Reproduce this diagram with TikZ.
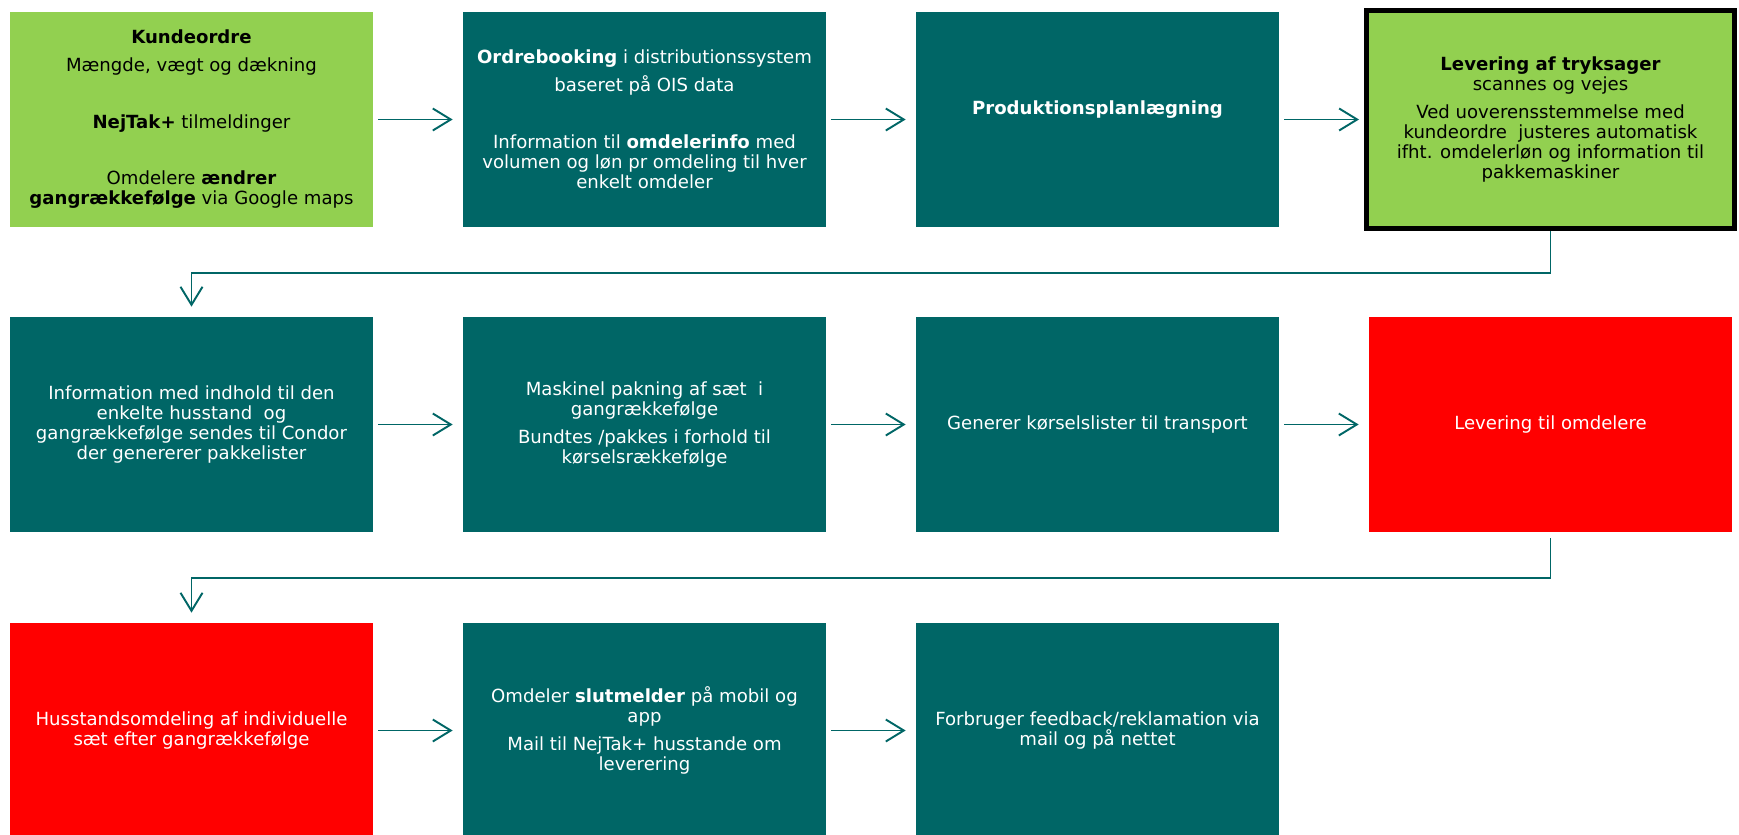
\documentclass[tikz,border=0pt]{standalone}
\usepackage{fontspec}
\setmainfont{DejaVu Sans}
\usetikzlibrary{arrows.meta}

\definecolor{pnteal}{RGB}{0,102,102}
\definecolor{pngreen}{RGB}{146,208,80}
\definecolor{pnred}{RGB}{255,0,0}

\tikzset{
    box/.style={rectangle, minimum width=7.26cm, minimum height=4.3cm, inner sep=0pt,
        align=center, font=\fontsize{10.3pt}{11.4pt}\selectfont},
    tealbox/.style={box, fill=pnteal, text=white},
    greenbox/.style={box, fill=pngreen, text=black},
    redbox/.style={box, fill=pnred, text=white},
    flow/.style={draw=pnteal, line width=1.1pt, -{Straight Barb[length=0.36cm,width=0.44cm]},
        shorten <=0.1cm, shorten >=0.2cm},
}

\begin{document}
\begin{tikzpicture}[]
        \useasboundingbox (0,0) rectangle (34.78,-16.68);

        \node[greenbox] (kunde) at (3.83,-2.39) {\textbf{Kundeordre}\\[4.5pt] Mængde, vægt og dækning\\[21pt] \textbf{NejTak+} tilmeldinger\\[20.5pt] Omdelere \textbf{ændrer}\\ \textbf{gangrækkefølge} via Google maps};
        \node[tealbox] (ordre) at (12.89,-2.39) {\textbf{Ordrebooking} i distributionssystem\\[4.5pt] baseret på OIS data\\[21pt] Information til \textbf{omdelerinfo} med\\ volumen og løn pr omdeling til hver\\ enkelt omdeler};
        \node[tealbox, text height=0.27cm, text depth=0.46cm] (prod) at (21.95,-2.39) {\textbf{Produktionsplanlægning}};
        \node[greenbox, draw=black, line width=2.85pt, minimum width=7.36cm, minimum height=4.36cm] (lev) at (31.01,-2.39) {\textbf{Levering af tryksager}\\ scannes og vejes\\[4.5pt] Ved uoverensstemmelse med\\ kundeordre\ \ justeres automatisk\\ ifht. omdelerløn og information til\\ pakkemaskiner};

        \node[tealbox] (info) at (3.83,-8.49) {Information med indhold til den\\ enkelte husstand\ \ og\\ gangrækkefølge sendes til Condor\\ der genererer pakkelister};
        \node[tealbox] (pak) at (12.89,-8.49) {Maskinel pakning af sæt\ \ i\\ gangrækkefølge\\[4pt] Bundtes /pakkes i forhold til\\ kørselsrækkefølge};
        \node[tealbox] (korsel) at (21.95,-8.49) {Generer kørselslister til transport};
        \node[redbox] (levomd) at (31.01,-8.49) {Levering til omdelere};

        \node[redbox] (husst) at (3.83,-14.61) {Husstandsomdeling af individuelle\\ sæt efter gangrækkefølge};
        \node[tealbox] (slut) at (12.89,-14.61) {Omdeler \textbf{slutmelder} på mobil og\\ app\\[4.5pt] Mail til NejTak+ husstande om\\ leverering};
        \node[tealbox] (feedback) at (21.95,-14.61) {Forbruger feedback/reklamation via\\ mail og på nettet};

        \draw[flow] (kunde) -- (ordre);
        \draw[flow] (ordre) -- (prod);
        \draw[flow, shorten >=0.1cm] (prod) -- (lev);
        \draw[flow, shorten <=0pt] (lev.south) -- ++(0,-0.84) -| (info.north);

        \draw[flow] (info) -- (pak);
        \draw[flow] (pak) -- (korsel);
        \draw[flow] (korsel) -- (levomd);
        \draw[flow, shorten <=0.12cm] (levomd.south) -- ++(0,-0.92) -| (husst.north);

        \draw[flow] (husst) -- (slut);
        \draw[flow] (slut) -- (feedback);
\end{tikzpicture}
\end{document}
